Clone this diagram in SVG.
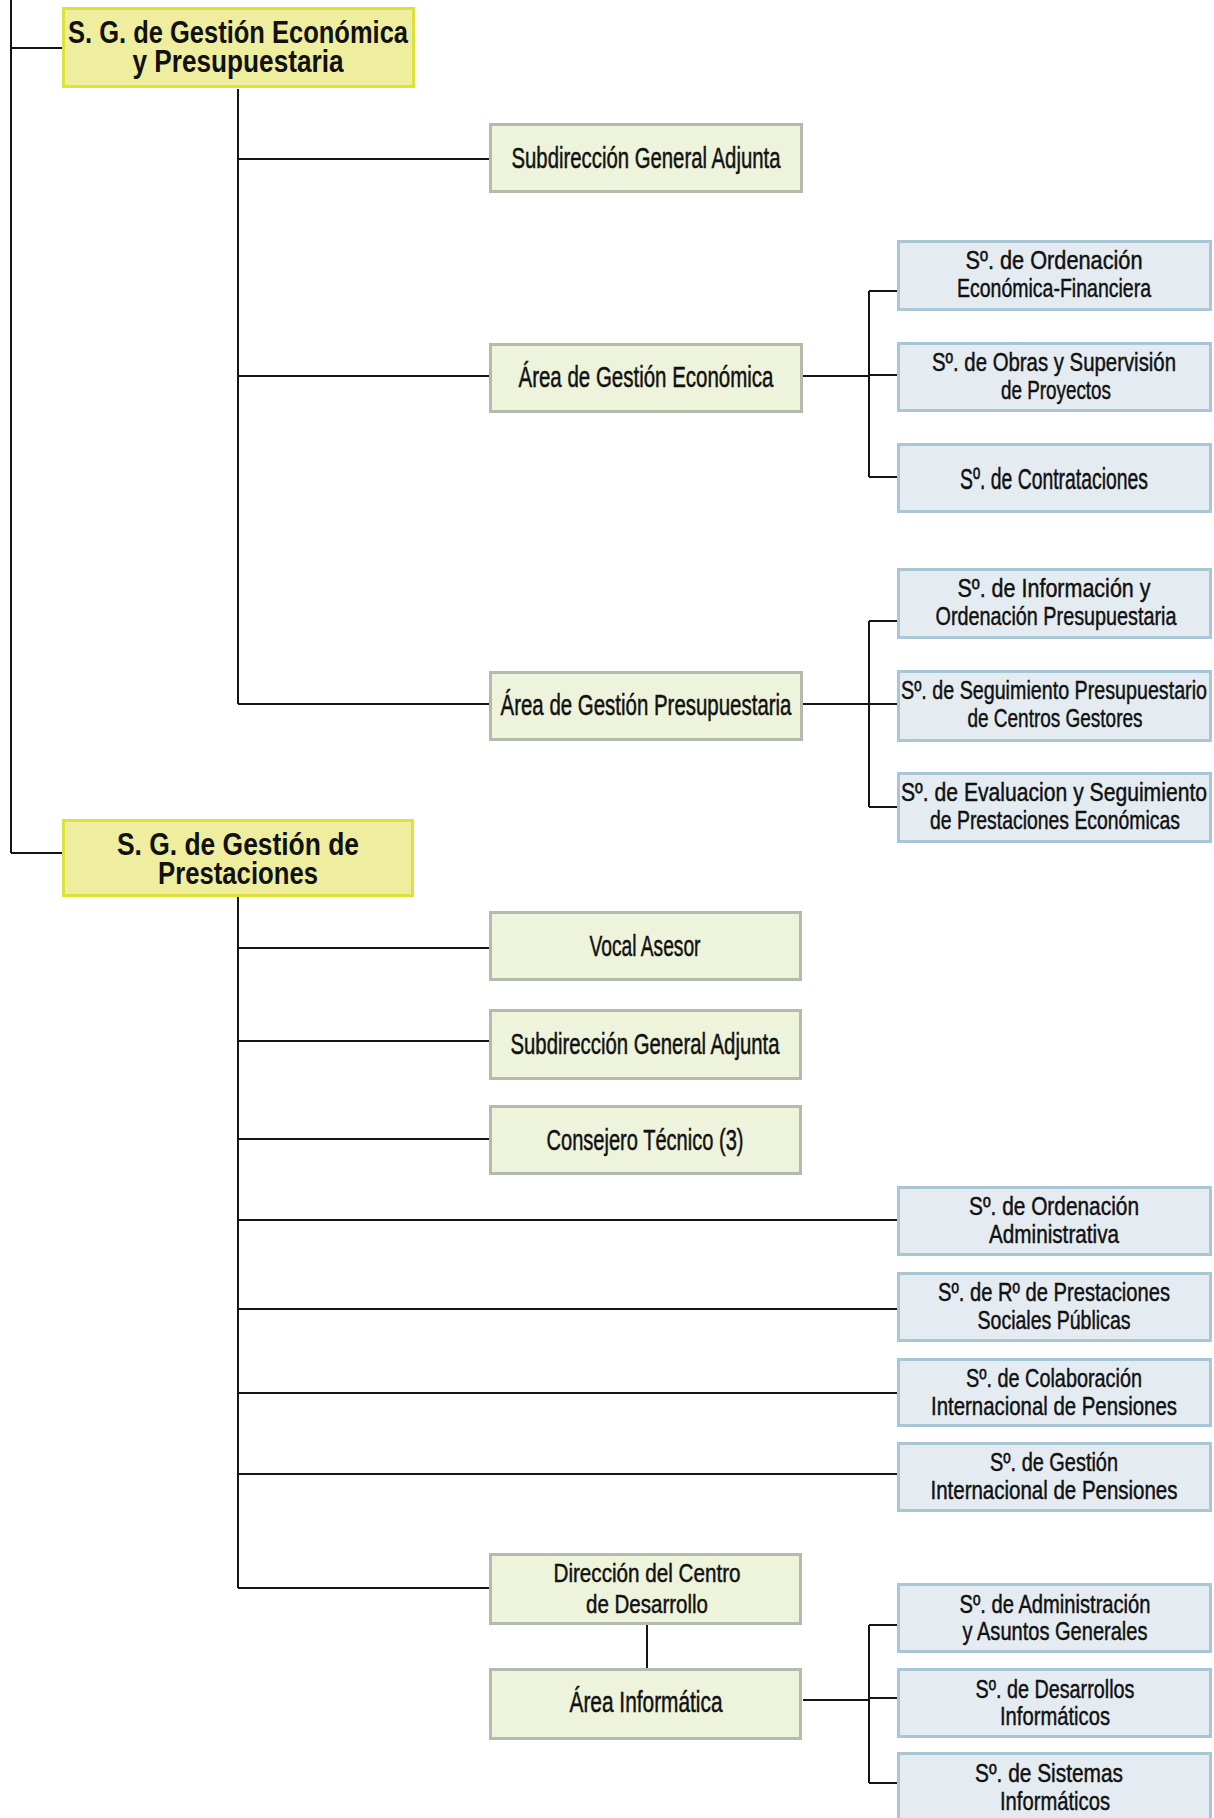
<svg xmlns="http://www.w3.org/2000/svg" width="1214" height="1818" viewBox="0 0 1214 1818">
<style>
.y{fill:#eeee9e;stroke:#dde23a;stroke-width:3}
.g{fill:#eef3dc;stroke:#b3bcac;stroke-width:3}
.b{fill:#e5ecf1;stroke:#a9c6d6;stroke-width:3}
.c{fill:none;stroke:#151515;stroke-width:2}
text{font-family:"Liberation Sans",Arial,sans-serif;fill:#111;text-anchor:middle}
.h{font-weight:bold;font-size:32px}
.s{font-size:30px;stroke:#111;stroke-width:0.5}
.t{font-size:25px;stroke:#111;stroke-width:0.45}
</style>
<rect width="1214" height="1818" fill="#fff"/>
<g id="connectors">
<path class="c" d="M11 0V853M11 48H62M11 853H62"/>
<path class="c" d="M238 89V704M238 159H489M238 376H489M238 704H489"/>
<path class="c" d="M803 376H869M869 291V477M869 291H897M869 375H897M869 477H897"/>
<path class="c" d="M803 704H869M869 621V807M869 621H897M869 704H897M869 807H897"/>
<path class="c" d="M238 897V1588M238 948H489M238 1041H489M238 1139H489M238 1220H897M238 1309H897M238 1393H897M238 1474H897M238 1588H489"/>
<path class="c" d="M647 1625V1668"/>
<path class="c" d="M803 1700H869M869 1625V1783M869 1625H897M869 1698H897M869 1783H897"/>
</g>
<g id="sg1"><rect class="y" x="63.5" y="8.5" width="350" height="78"/>
<text class="h" x="238" y="43" textLength="340" lengthAdjust="spacingAndGlyphs">S. G. de Gestión Económica</text>
<text class="h" x="238" y="72" textLength="211" lengthAdjust="spacingAndGlyphs">y Presupuestaria</text></g>
<g id="subdir1"><rect class="g" x="490.5" y="124.5" width="311" height="67"/>
<text class="s" x="646" y="168" textLength="269" lengthAdjust="spacingAndGlyphs">Subdirección General Adjunta</text></g>
<g id="age"><rect class="g" x="490.5" y="344.5" width="311" height="67"/>
<text class="s" x="646" y="387" textLength="255" lengthAdjust="spacingAndGlyphs">Área de Gestión Económica</text></g>
<g id="agp"><rect class="g" x="490.5" y="672.5" width="311" height="67"/>
<text class="s" x="646" y="715" textLength="291" lengthAdjust="spacingAndGlyphs">Área de Gestión Presupuestaria</text></g>
<g id="s_oef"><rect class="b" x="898.5" y="241.5" width="312" height="68"/>
<text class="t" x="1054" y="269" textLength="177" lengthAdjust="spacingAndGlyphs">Sº. de Ordenación</text>
<text class="t" x="1054" y="297" textLength="194" lengthAdjust="spacingAndGlyphs">Económica-Financiera</text></g>
<g id="s_obras"><rect class="b" x="898.5" y="343.5" width="312" height="67"/>
<text class="t" x="1054" y="371" textLength="244" lengthAdjust="spacingAndGlyphs">Sº. de Obras y Supervisión</text>
<text class="t" x="1056" y="399" textLength="110" lengthAdjust="spacingAndGlyphs">de Proyectos</text></g>
<g id="s_contr"><rect class="b" x="898.5" y="444.5" width="312" height="67"/>
<text class="s" x="1054" y="489" textLength="188" lengthAdjust="spacingAndGlyphs">Sº. de Contrataciones</text></g>
<g id="s_info"><rect class="b" x="898.5" y="569.5" width="312" height="68"/>
<text class="t" x="1054" y="597" textLength="193" lengthAdjust="spacingAndGlyphs">Sº. de Información y</text>
<text class="t" x="1056" y="625" textLength="241" lengthAdjust="spacingAndGlyphs">Ordenación Presupuestaria</text></g>
<g id="s_segp"><rect class="b" x="898.5" y="671.5" width="312" height="69"/>
<text class="t" x="1054" y="699" textLength="306" lengthAdjust="spacingAndGlyphs">Sº. de Seguimiento Presupuestario</text>
<text class="t" x="1055" y="727" textLength="175" lengthAdjust="spacingAndGlyphs">de Centros Gestores</text></g>
<g id="s_eval"><rect class="b" x="898.5" y="773.5" width="312" height="68"/>
<text class="t" x="1054" y="801" textLength="306" lengthAdjust="spacingAndGlyphs">Sº. de Evaluacion y Seguimiento</text>
<text class="t" x="1055" y="829" textLength="250" lengthAdjust="spacingAndGlyphs">de Prestaciones Económicas</text></g>
<g id="sg2"><rect class="y" x="63.5" y="820.5" width="349" height="75"/>
<text class="h" x="238" y="855" textLength="242" lengthAdjust="spacingAndGlyphs">S. G. de Gestión de</text>
<text class="h" x="238" y="884" textLength="160" lengthAdjust="spacingAndGlyphs">Prestaciones</text></g>
<g id="vocal"><rect class="g" x="490.5" y="912.5" width="310" height="67"/>
<text class="s" x="645" y="956" textLength="111" lengthAdjust="spacingAndGlyphs">Vocal Asesor</text></g>
<g id="subdir2"><rect class="g" x="490.5" y="1010.5" width="310" height="68"/>
<text class="s" x="645" y="1054" textLength="269" lengthAdjust="spacingAndGlyphs">Subdirección General Adjunta</text></g>
<g id="consejero"><rect class="g" x="490.5" y="1106.5" width="310" height="67"/>
<text class="s" x="645" y="1150" textLength="197" lengthAdjust="spacingAndGlyphs">Consejero Técnico (3)</text></g>
<g id="s_oadm"><rect class="b" x="898.5" y="1187.5" width="312" height="67"/>
<text class="t" x="1054" y="1215" textLength="170" lengthAdjust="spacingAndGlyphs">Sº. de Ordenación</text>
<text class="t" x="1054" y="1243" textLength="130" lengthAdjust="spacingAndGlyphs">Administrativa</text></g>
<g id="s_rp"><rect class="b" x="898.5" y="1273.5" width="312" height="67"/>
<text class="t" x="1054" y="1301" textLength="232" lengthAdjust="spacingAndGlyphs">Sº. de Rº de Prestaciones</text>
<text class="t" x="1054" y="1329" textLength="153" lengthAdjust="spacingAndGlyphs">Sociales Públicas</text></g>
<g id="s_colab"><rect class="b" x="898.5" y="1359.5" width="312" height="66"/>
<text class="t" x="1054" y="1387" textLength="176" lengthAdjust="spacingAndGlyphs">Sº. de Colaboración</text>
<text class="t" x="1054" y="1415" textLength="246" lengthAdjust="spacingAndGlyphs">Internacional de Pensiones</text></g>
<g id="s_gest"><rect class="b" x="898.5" y="1443.5" width="312" height="67"/>
<text class="t" x="1054" y="1471" textLength="128" lengthAdjust="spacingAndGlyphs">Sº. de Gestión</text>
<text class="t" x="1054" y="1499" textLength="247" lengthAdjust="spacingAndGlyphs">Internacional de Pensiones</text></g>
<g id="direccion"><rect class="g" x="490.5" y="1554.5" width="310" height="69"/>
<text class="t" x="647" y="1582" textLength="187" lengthAdjust="spacingAndGlyphs">Dirección del Centro</text>
<text class="t" x="647" y="1613" textLength="122" lengthAdjust="spacingAndGlyphs">de Desarrollo</text></g>
<g id="area_inf"><rect class="g" x="490.5" y="1669.5" width="310" height="69"/>
<text class="s" x="646" y="1712" textLength="153" lengthAdjust="spacingAndGlyphs">Área Informática</text></g>
<g id="s_adm"><rect class="b" x="898.5" y="1584.5" width="312" height="67"/>
<text class="t" x="1055" y="1613" textLength="191" lengthAdjust="spacingAndGlyphs">Sº. de Administración</text>
<text class="t" x="1055" y="1640" textLength="185" lengthAdjust="spacingAndGlyphs">y Asuntos Generales</text></g>
<g id="s_des"><rect class="b" x="898.5" y="1669.5" width="312" height="67"/>
<text class="t" x="1055" y="1698" textLength="159" lengthAdjust="spacingAndGlyphs">Sº. de Desarrollos</text>
<text class="t" x="1055" y="1725" textLength="110" lengthAdjust="spacingAndGlyphs">Informáticos</text></g>
<g id="s_sis"><rect class="b" x="898.5" y="1753.5" width="312" height="70"/>
<text class="t" x="1049" y="1782" textLength="148" lengthAdjust="spacingAndGlyphs">Sº. de Sistemas</text>
<text class="t" x="1055" y="1810" textLength="110" lengthAdjust="spacingAndGlyphs">Informáticos</text></g>
</svg>
